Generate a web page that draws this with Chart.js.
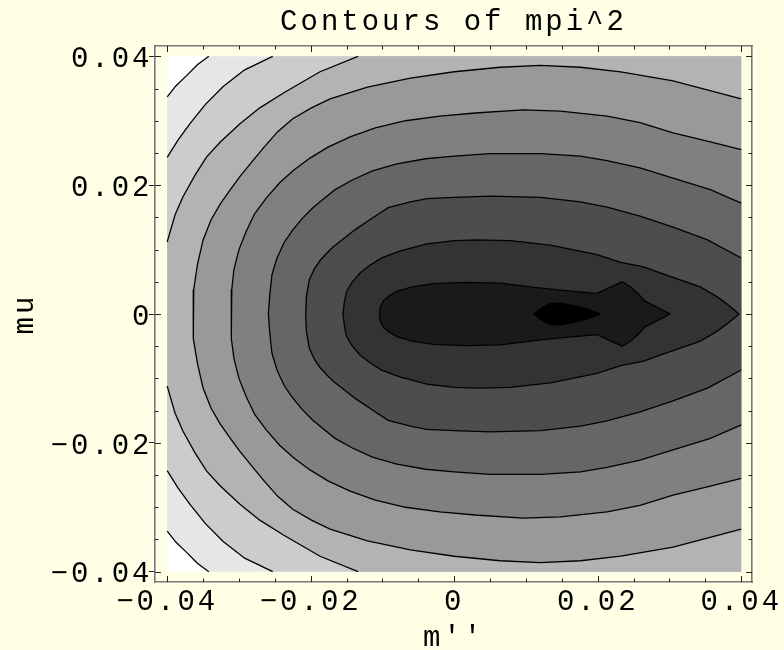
<!DOCTYPE html>
<html>
<head>
<meta charset="utf-8">
<script src="https://cdn.jsdelivr.net/npm/chart.js@4.4.1/dist/chart.umd.min.js"></script>
<style>
html,body{margin:0;padding:0;background:#ffffe5;}
canvas{display:block;}
</style>
</head>
<body>
<canvas id="c" width="784" height="650"></canvas>
<script>
// ---- text ----
const titleText = "Contours of mpi^2";
const xTitle = "m''";
const yTitle = "mu";

// ---- axes ----
const plotRange = [-0.04, 0.04];
const tickLabels = [-0.04, -0.02, 0, 0.02, 0.04];
const minorTicks = [-0.04, -0.035, -0.03, -0.025, -0.02, -0.015, -0.01, -0.005, 0,
                    0.005, 0.01, 0.015, 0.02, 0.025, 0.03, 0.035, 0.04];

// ---- shading of the 11 bands (outermost -> innermost) ----
const levelColors = ["#ffffff", "#e6e6e6", "#cccccc", "#b3b3b3", "#999999", "#808080",
                     "#666666", "#4d4d4d", "#333333", "#1a1a1a", "#000000"];

// ---- contour lines (m'', mu) ----
// contours 1-3: left-edge -> top/bottom-edge pieces
const c1Upper = [[-0.04,0.0337],[-0.0388,0.0354],[-0.0373,0.0370],[-0.0358,0.0387],[-0.0342,0.04]];
const c1Lower = [[-0.04,-0.0337],[-0.0388,-0.0354],[-0.0373,-0.0370],[-0.0358,-0.0387],[-0.0342,-0.04]];

const c2Upper = [[-0.04,0.0243],[-0.0385,0.0270],[-0.0368,0.0296],[-0.0347,0.0325],[-0.0322,0.0353],[-0.0292,0.0379],[-0.0253,0.04]];
const c2Lower = [[-0.04,-0.0243],[-0.0385,-0.0270],[-0.0368,-0.0296],[-0.0347,-0.0325],[-0.0322,-0.0353],[-0.0292,-0.0379],[-0.0253,-0.04]];

const c3Upper = [[-0.04,0.0112],[-0.0389,0.0154],[-0.0378,0.0182],[-0.0361,0.0216],[-0.0345,0.0244],[-0.0326,0.0267],[-0.0299,0.0295],[-0.0271,0.0320],[-0.0238,0.0343],[-0.0187,0.0376],[-0.0134,0.04]];
const c3Lower = [[-0.04,-0.0112],[-0.0389,-0.0154],[-0.0378,-0.0182],[-0.0361,-0.0216],[-0.0345,-0.0244],[-0.0326,-0.0267],[-0.0299,-0.0295],[-0.0271,-0.0320],[-0.0238,-0.0343],[-0.0187,-0.0376],[-0.0134,-0.04]];

// contours 4-7: from mu=0 leftmost point out to the right edge
const c4Upper = [[-0.0364,0],[-0.0363,0.0038],[-0.0358,0.0076],[-0.0350,0.0115],[-0.0339,0.0146],[-0.0326,0.0171],[-0.0312,0.0193],[-0.0299,0.0213],[-0.0282,0.0236],[-0.0265,0.0259],[-0.0246,0.0283],[-0.0225,0.0303],[-0.0199,0.0320],[-0.0173,0.0334],[-0.0121,0.0352],[-0.0061,0.0366],[0,0.0376],[0.0064,0.0383],[0.0120,0.0386],[0.0176,0.0383],[0.0232,0.0376],[0.0305,0.0362],[0.04,0.0334]];
const c4Lower = [[-0.0364,0],[-0.0363,-0.0038],[-0.0358,-0.0076],[-0.0350,-0.0115],[-0.0339,-0.0146],[-0.0326,-0.0171],[-0.0312,-0.0193],[-0.0299,-0.0213],[-0.0282,-0.0236],[-0.0265,-0.0259],[-0.0246,-0.0283],[-0.0225,-0.0303],[-0.0199,-0.0320],[-0.0173,-0.0334],[-0.0121,-0.0352],[-0.0061,-0.0366],[0,-0.0376],[0.0064,-0.0383],[0.0120,-0.0386],[0.0176,-0.0383],[0.0232,-0.0376],[0.0305,-0.0362],[0.04,-0.0334]];

const c5Upper = [[-0.0311,0],[-0.0310,0.0038],[-0.0307,0.0069],[-0.0300,0.0100],[-0.0290,0.0128],[-0.0278,0.0156],[-0.0262,0.0180],[-0.0243,0.0204],[-0.0223,0.0224],[-0.0201,0.0242],[-0.0176,0.0259],[-0.0145,0.0275],[-0.0110,0.0289],[-0.0068,0.0300],[-0.0020,0.0307],[0.0029,0.0312],[0.0096,0.0317],[0.0148,0.0315],[0.0213,0.0307],[0.0259,0.0297],[0.0305,0.0281],[0.0357,0.0267],[0.04,0.0255]];
const c5Lower = [[-0.0311,0],[-0.0310,-0.0038],[-0.0307,-0.0069],[-0.0300,-0.0100],[-0.0290,-0.0128],[-0.0278,-0.0156],[-0.0262,-0.0180],[-0.0243,-0.0204],[-0.0223,-0.0224],[-0.0201,-0.0242],[-0.0176,-0.0259],[-0.0145,-0.0275],[-0.0110,-0.0289],[-0.0068,-0.0300],[-0.0020,-0.0307],[0.0029,-0.0312],[0.0096,-0.0317],[0.0148,-0.0315],[0.0213,-0.0307],[0.0259,-0.0297],[0.0305,-0.0281],[0.0357,-0.0267],[0.04,-0.0255]];

const c6Upper = [[-0.0259,0],[-0.0257,0.0030],[-0.0254,0.0061],[-0.0247,0.0087],[-0.0237,0.0111],[-0.0226,0.0129],[-0.0212,0.0148],[-0.0197,0.0165],[-0.0184,0.0177],[-0.0166,0.0193],[-0.0142,0.0208],[-0.0114,0.0222],[-0.0080,0.0233],[-0.0040,0.0241],[0,0.0245],[0.0050,0.0249],[0.0120,0.0249],[0.0176,0.0245],[0.0213,0.0238],[0.0259,0.0227],[0.0305,0.0211],[0.0357,0.0193],[0.04,0.0172]];
const c6Lower = [[-0.0259,0],[-0.0257,-0.0030],[-0.0254,-0.0061],[-0.0247,-0.0087],[-0.0237,-0.0111],[-0.0226,-0.0129],[-0.0212,-0.0148],[-0.0197,-0.0165],[-0.0184,-0.0177],[-0.0166,-0.0193],[-0.0142,-0.0208],[-0.0114,-0.0222],[-0.0080,-0.0233],[-0.0040,-0.0241],[0,-0.0245],[0.0050,-0.0249],[0.0120,-0.0249],[0.0176,-0.0245],[0.0213,-0.0238],[0.0259,-0.0227],[0.0305,-0.0211],[0.0357,-0.0193],[0.04,-0.0172]];

const c7Upper = [[-0.0207,0],[-0.0206,0.0027],[-0.0202,0.0053],[-0.0195,0.0070],[-0.0187,0.0083],[-0.0177,0.0095],[-0.0169,0.0104],[-0.0153,0.0118],[-0.0138,0.0131],[-0.0114,0.0149],[-0.0092,0.0165],[-0.0061,0.0174],[-0.0038,0.0179],[0,0.0181],[0.0050,0.0183],[0.0120,0.0181],[0.0176,0.0174],[0.0213,0.0166],[0.0259,0.0152],[0.0305,0.0135],[0.0353,0.0115],[0.04,0.0087]];
const c7Lower = [[-0.0207,0],[-0.0206,-0.0027],[-0.0202,-0.0053],[-0.0195,-0.0070],[-0.0187,-0.0083],[-0.0177,-0.0095],[-0.0169,-0.0104],[-0.0153,-0.0118],[-0.0138,-0.0131],[-0.0114,-0.0149],[-0.0092,-0.0165],[-0.0061,-0.0174],[-0.0038,-0.0179],[0,-0.0181],[0.0050,-0.0183],[0.0120,-0.0181],[0.0176,-0.0174],[0.0213,-0.0166],[0.0259,-0.0152],[0.0305,-0.0135],[0.0353,-0.0115],[0.04,-0.0087]];

// contours 8-10: closed curves
const c8Upper = [[-0.0155,0],[-0.0153,0.0019],[-0.0150,0.0035],[-0.0142,0.0050],[-0.0131,0.0064],[-0.0117,0.0076],[-0.0101,0.0087],[-0.0075,0.0098],[-0.0038,0.0109],[0,0.0114],[0.0032,0.0115],[0.0078,0.0114],[0.0134,0.0107],[0.0199,0.0092],[0.0232,0.0080],[0.0264,0.0073],[0.0287,0.0064],[0.0315,0.0053],[0.0343,0.0042],[0.0366,0.0027],[0.0382,0.0014],[0.0397,0]];
const c8Lower = [[-0.0155,0],[-0.0153,-0.0019],[-0.0150,-0.0035],[-0.0142,-0.0050],[-0.0131,-0.0064],[-0.0117,-0.0076],[-0.0101,-0.0087],[-0.0075,-0.0098],[-0.0038,-0.0109],[0,-0.0114],[0.0032,-0.0115],[0.0078,-0.0114],[0.0134,-0.0107],[0.0199,-0.0092],[0.0232,-0.0080],[0.0264,-0.0073],[0.0287,-0.0064],[0.0315,-0.0053],[0.0343,-0.0042],[0.0366,-0.0027],[0.0382,-0.0014],[0.0397,0]];

const c9Upper = [[-0.0104,0],[-0.0103,0.0011],[-0.0099,0.0020],[-0.0091,0.0028],[-0.0080,0.0035],[-0.0059,0.0042],[-0.0029,0.0047],[0.0018,0.0049],[0.0064,0.0048],[0.0106,0.0042],[0.0148,0.0037],[0.0199,0.0032],[0.0234,0.0050],[0.0246,0.0042],[0.0255,0.0033],[0.0266,0.0020],[0.0301,0]];
const c9Lower = [[-0.0104,0],[-0.0103,-0.0011],[-0.0099,-0.0020],[-0.0091,-0.0028],[-0.0080,-0.0035],[-0.0059,-0.0042],[-0.0029,-0.0047],[0.0018,-0.0049],[0.0064,-0.0048],[0.0106,-0.0042],[0.0148,-0.0037],[0.0199,-0.0032],[0.0234,-0.0050],[0.0246,-0.0042],[0.0255,-0.0033],[0.0266,-0.0020],[0.0301,0]];

const c10Upper = [[0.0111,0],[0.0123,0.0010],[0.0134,0.0017],[0.0148,0.0017],[0.0166,0.0013],[0.0185,0.0008],[0.0204,0]];
const c10Lower = [[0.0111,0],[0.0123,-0.0010],[0.0134,-0.0017],[0.0148,-0.0017],[0.0166,-0.0013],[0.0185,-0.0008],[0.0204,0]];

// ---- build polygons / polylines from the arrays ----
const P = a => a.map(([x, y]) => ({x, y}));
const rev = a => a.slice().reverse();
const lo = plotRange[0], hi = plotRange[1];

const edgePolygon = (up, dn) => [...P(up), {x: hi, y: hi}, {x: hi, y: lo}, ...P(rev(dn))];
const loopPath = (up, dn) => [...P(rev(up)), ...P(dn)];

const regions = [
  [{x: lo, y: hi}, {x: hi, y: hi}, {x: hi, y: lo}, {x: lo, y: lo}],
  edgePolygon(c1Upper, c1Lower),
  edgePolygon(c2Upper, c2Lower),
  edgePolygon(c3Upper, c3Lower),
  loopPath(c4Upper, c4Lower),
  loopPath(c5Upper, c5Lower),
  loopPath(c6Upper, c6Lower),
  loopPath(c7Upper, c7Lower),
  loopPath(c8Upper, c8Lower),
  loopPath(c9Upper, c9Lower),
  loopPath(c10Upper, c10Lower)
];

const lines = [
  P(c1Upper), P(c1Lower), P(c2Upper), P(c2Lower), P(c3Upper), P(c3Lower),
  loopPath(c4Upper, c4Lower), loopPath(c5Upper, c5Lower), loopPath(c6Upper, c6Lower),
  loopPath(c7Upper, c7Lower), loopPath(c8Upper, c8Lower), loopPath(c9Upper, c9Lower),
  loopPath(c10Upper, c10Lower)
];

const datasets = [];
regions.forEach((pts, i) => datasets.push({
  data: pts, showLine: true, fill: 'shape', backgroundColor: levelColors[i],
  borderColor: 'rgba(0,0,0,0)', borderWidth: 0, pointRadius: 0, tension: 0, order: 20 - i
}));
lines.forEach(pts => datasets.push({
  data: pts, showLine: true, fill: false, borderColor: '#000', borderWidth: 1.3,
  pointRadius: 0, tension: 0, order: 0
}));

// ---- style ----
const FONT = "'Liberation Mono', 'Courier New', monospace";
const textFont = {family: FONT, size: 29, lineHeight: 1};
const frameColor = '#777777';
const isMajor = v => tickLabels.includes(v);
const fmt = v => v === 0 ? '0' : (v < 0 ? '\u2212' : '') + Math.abs(v).toFixed(2);

const xMin = -0.0417, xMax = 0.0415, yMin = -0.0416, yMax = 0.0416;

const frameTicks = {
  id: 'frameTicks',
  beforeDraw(chart) { chart.ctx.letterSpacing = '3px'; },
  afterDraw(chart) {
    const ctx = chart.ctx, a = chart.chartArea;
    const sx = chart.scales.x, sy = chart.scales.y;
    ctx.save();
    ctx.strokeStyle = '#222';
    ctx.lineWidth = 1;
    ctx.beginPath();
    for (const v of minorTicks) {
      const len = isMajor(v) ? 6 : 3.5;
      const px = Math.round(sx.getPixelForValue(v)) + 0.5;
      const py = Math.round(sy.getPixelForValue(v)) + 0.5;
      ctx.moveTo(px, a.bottom); ctx.lineTo(px, a.bottom - len);
      ctx.moveTo(px, a.top); ctx.lineTo(px, a.top + len);
      ctx.moveTo(a.left, py); ctx.lineTo(a.left + len, py);
      ctx.moveTo(a.right, py); ctx.lineTo(a.right - len, py);
    }
    ctx.stroke();
    ctx.restore();
  }
};

new Chart(document.getElementById('c'), {
  type: 'scatter',
  data: {datasets},
  options: {
    responsive: false,
    animation: false,
    events: [],
    devicePixelRatio: 1,
    layout: {padding: 0},
    plugins: {legend: {display: false}, tooltip: {enabled: false}, title: {display: false}},
    scales: {
      x: {
        type: 'linear', position: 'bottom', min: xMin, max: xMax,
        afterBuildTicks: s => { s.ticks = minorTicks.map(v => ({value: v})); },
        ticks: {autoSkip: false, maxRotation: 0, color: '#000', font: textFont, padding: 0,
                callback: v => isMajor(v) ? fmt(v) : ''},
        grid: {drawOnChartArea: false, drawTicks: true, tickLength: 6, tickColor: 'rgba(0,0,0,0)'},
        border: {display: true, color: frameColor, width: 1.6},
        title: {display: true, text: xTitle, color: '#000', font: textFont, padding: {top: 0, bottom: -3}},
        afterFit: s => { s.height = 68; }
      },
      x2: {
        type: 'linear', position: 'top', min: xMin, max: xMax,
        ticks: {display: false},
        grid: {drawOnChartArea: false, drawTicks: false},
        border: {display: true, color: frameColor, width: 1.6},
        title: {display: true, text: titleText, color: '#000', font: textFont, padding: {top: 8, bottom: 0}},
        afterFit: s => { s.height = 46; }
      },
      y: {
        type: 'linear', position: 'left', min: yMin, max: yMax,
        afterBuildTicks: s => { s.ticks = minorTicks.map(v => ({value: v})); },
        ticks: {autoSkip: false, color: '#000', font: textFont, padding: -3.5, labelOffset: 3,
                callback: v => isMajor(v) ? fmt(v) : ''},
        grid: {drawOnChartArea: false, drawTicks: true, tickLength: 6,
               tickColor: ctx => (ctx.tick && isMajor(ctx.tick.value)) ? '#222' : 'rgba(0,0,0,0)'},
        border: {display: true, color: frameColor, width: 1.6},
        title: {display: true, text: yTitle, color: '#000', font: textFont, padding: {top: 10.5, bottom: 0}},
        afterFit: s => { s.width = 155; }
      },
      y2: {
        type: 'linear', position: 'right', min: yMin, max: yMax,
        ticks: {display: false},
        grid: {drawOnChartArea: false, drawTicks: false},
        border: {display: true, color: frameColor, width: 1.6},
        afterFit: s => { s.width = 32; }
      }
    }
  },
  plugins: [frameTicks]
});
</script>
</body>
</html>
